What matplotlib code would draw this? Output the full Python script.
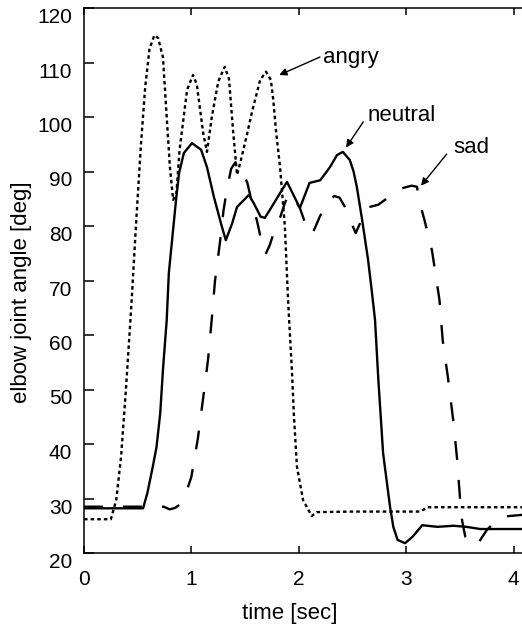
import matplotlib
matplotlib.use("Agg")
import matplotlib.pyplot as plt

plt.rcParams['font.family'] = ['Liberation Sans', 'DejaVu Sans']

# ---------------- data ----------------
angry_t = [0.00, 0.25, 0.30, 0.345, 0.39, 0.44, 0.485, 0.53, 0.57, 0.61,
           0.655, 0.69, 0.735, 0.77, 0.80, 0.83, 0.86, 0.89, 0.96, 1.015,
           1.05, 1.11, 1.145, 1.19, 1.25, 1.31, 1.35, 1.39, 1.425, 1.46,
           1.52, 1.565, 1.64, 1.695, 1.74, 1.763, 1.79, 1.825, 1.87, 1.90,
           1.937, 1.955, 1.983, 2.04, 2.12, 2.17, 2.50, 2.90, 3.13, 3.20, 4.08]
angry_y = [26.2, 26.2, 29.7, 37.6, 49.9, 65.1, 80.5, 94.9, 105.5, 112.5,
           115.0, 114.5, 111.0, 100.0, 90.8, 84.8, 86.0, 94.0, 105.0, 107.7,
           106.0, 97.0, 93.6, 100.0, 106.5, 109.2, 107.0, 97.0, 89.4, 92.0,
           97.0, 101.0, 106.8, 108.3, 106.8, 103.0, 97.0, 90.9, 80.0, 66.4,
           53.0, 45.0, 35.8, 29.7, 26.8, 27.5, 27.6, 27.6, 27.6, 28.4, 28.4]

neutral_t = [0.00, 0.55, 0.59, 0.64, 0.675, 0.71, 0.735, 0.77, 0.79, 0.82,
             0.857, 0.885, 0.93, 1.005, 1.09, 1.145, 1.21, 1.275, 1.32, 1.38,
             1.425, 1.49, 1.535, 1.58, 1.645, 1.685, 1.89, 2.01, 2.10, 2.20,
             2.29, 2.355, 2.41, 2.475, 2.51, 2.54, 2.59, 2.645, 2.68, 2.71,
             2.74, 2.785, 2.85, 2.88, 2.92, 2.99, 3.06, 3.15, 3.29, 3.44,
             3.56, 3.69, 4.08]
neutral_y = [28.2, 28.2, 31.0, 35.8, 39.4, 45.7, 53.6, 62.7, 71.4, 77.4,
             84.8, 89.7, 93.4, 95.2, 94.0, 90.8, 85.3, 80.5, 77.4, 80.5,
             83.5, 84.8, 85.7, 84.2, 81.7, 81.5, 88.1, 83.3, 87.9, 88.4,
             90.8, 93.0, 93.6, 92.1, 90.0, 87.2, 81.1, 73.8, 68.0, 62.7,
             52.0, 38.3, 28.4, 24.8, 22.4, 21.8, 23.0, 25.1, 24.8, 25.0,
             24.8, 24.4, 24.4]

sad_t = [0.00, 0.74, 0.80, 0.85, 0.90, 0.95, 1.00, 1.06, 1.11, 1.155,
         1.19, 1.22, 1.266, 1.30, 1.33, 1.37, 1.41, 1.45, 1.48, 1.52,
         1.555, 1.61, 1.65, 1.69, 1.73, 1.77, 1.825, 1.87, 1.91, 1.96,
         2.01, 2.06, 2.10, 2.13, 2.195, 2.27, 2.33, 2.38, 2.43, 2.49,
         2.53, 2.57, 2.62, 2.74, 2.85, 2.90, 3.05, 3.10, 3.13, 3.17,
         3.24, 3.31, 3.34, 3.39, 3.44, 3.475, 3.50, 3.52, 3.55, 3.60,
         3.66, 3.75, 3.87, 3.97, 4.08]
sad_y = [28.5, 28.5, 28.0, 28.3, 29.0, 31.0, 34.0, 41.0, 48.5, 55.5,
         63.0, 70.0, 77.0, 83.0, 86.6, 90.5, 91.7, 91.2, 89.5, 88.0,
         85.0, 81.0, 77.4, 74.8, 76.5, 79.0, 81.5, 84.2, 86.0, 85.0,
         83.3, 80.5, 78.5, 78.7, 81.7, 84.5, 85.5, 85.2, 83.5, 80.5,
         78.7, 80.5, 83.3, 83.9, 85.5, 86.6, 87.4, 87.2, 84.0, 81.1,
         75.5, 66.4, 59.0, 52.0, 44.0, 37.0, 30.3, 26.0, 23.0, 21.5,
         21.5, 24.2, 26.6, 26.8, 27.0]

x_ticks = [0, 1, 2, 3, 4]
y_ticks = [20, 30, 40, 50, 60, 70, 80, 90, 100, 110, 120]

labels = ["angry", "neutral", "sad"]
label_pos = [(2.228, 109.85), (2.638, 99.3), (3.438, 93.34)]
arrow_tail = [(2.197, 111.0), (2.60, 99.1), (3.377, 93.2)]
arrow_head = [(1.818, 107.7), (2.44, 94.4), (3.138, 87.4)]

# ---------------- figure ----------------
W, H = 522, 627
fig = plt.figure(figsize=(W / 100, H / 100), dpi=100)
ax = fig.add_axes([84 / W, (H - 553) / H, (W - 84) / W, 545 / H])

lw = 1.7
l1, = ax.plot(angry_t, angry_y, color='black', lw=lw)
l1.set_dashes([1.5, 1.3])
l2, = ax.plot(neutral_t, neutral_y, color='black', lw=lw)
l3, = ax.plot(sad_t, sad_y, color='black', lw=lw)
l3.set_dashes([8.0, 8.5])

ax.set_xlim(0, 438 / 107.4)
ax.set_ylim(20, 120)
ax.set_xticks(x_ticks)
ax.set_yticks(y_ticks)

fs_tick = 15
fs = 16
ax.spines['right'].set_visible(False)
for s in ['left', 'top', 'bottom']:
    ax.spines[s].set_linewidth(1.1)
ax.tick_params(axis='x', direction='in', top=True, bottom=True, length=4.8,
               width=1.1, labelsize=fs_tick, pad=12)
ax.tick_params(axis='y', direction='in', left=True, right=False, length=7,
               width=1.1, labelsize=fs_tick, pad=8.5)
for lab in ax.get_yticklabels():
    lab.set_verticalalignment('top')

ax.set_xlabel("time [sec]", fontsize=fs)
ax.xaxis.set_label_coords((290 - 84) / 438, (553 - 603) / 545)
ax.set_ylabel("elbow joint angle [deg]", fontsize=fs)
ax.yaxis.set_label_coords((32 - 84) / 438, (553 - 292) / 545)

for txt, pos, tail, head in zip(labels, label_pos, arrow_tail, arrow_head):
    ax.text(pos[0], pos[1], txt, fontsize=fs, ha='left', va='baseline')
    ax.annotate("", xy=head, xytext=tail,
                arrowprops=dict(arrowstyle='-|>', color='black', lw=1.0,
                                shrinkA=0, shrinkB=0, mutation_scale=11))

fig.savefig("out.png", dpi=100)
